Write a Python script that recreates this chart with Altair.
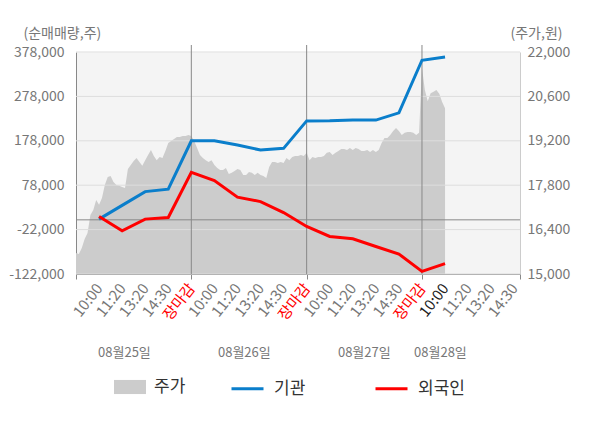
import json
import altair as alt
import pandas as pd

# ---------------- data ----------------
# intraday price (원), 40 samples per trading day, last day partial (open .. 10:00)
day1_price = [15660, 15630, 15820, 16100, 16290, 16860, 17020, 17330, 17180, 17400,
              17810, 18060, 18090, 17900, 17810, 17780, 17740, 17710, 18310, 18440,
              18560, 18660, 18530, 18410, 18590, 18750, 18910, 18720, 18590, 18690,
              18660, 18880, 19130, 19190, 19260, 19320, 19320, 19350, 19350, 19380]
day2_price = [19350, 19190, 18970, 18750, 18660, 18590, 18530, 18590, 18440, 18340,
              18280, 18280, 18340, 18150, 18190, 18250, 18310, 18280, 18120, 18120,
              18220, 18190, 18120, 18190, 18120, 18090, 18030, 18370, 18530, 18530,
              18500, 18530, 18500, 18660, 18590, 18690, 18720, 18720, 18750, 18720]
day3_price = [18820, 18590, 18690, 18660, 18690, 18690, 18720, 18820, 18850, 18750,
              18820, 18880, 18940, 18940, 18910, 18970, 18910, 18970, 18940, 18880,
              18880, 18910, 18850, 18910, 18850, 18910, 19130, 19290, 19290, 19380,
              19510, 19600, 19510, 19380, 19450, 19480, 19480, 19450, 19380, 19450]
day4_price = [21500, 20800, 20450, 20700, 20750, 20800, 20680, 20420, 20230]
day_prices = [day1_price, day2_price, day3_price, day4_price]
SAMPLES_PER_DAY = 40

# cumulative net buying (주) at each time label
flow_t = list(range(1, 17))
inst_vals = [1600, 32600, 63600, 69000, 178100, 178100, 168500, 157200, 161000,
             222800, 223000, 224600, 224600, 241000, 359400, 366800]
foreign_vals = [7400, -24700, 1600, 5200, 107100, 88300, 51000, 41100, 16400,
                -15000, -37500, -42700, -60000, -77000, -116100, -98800]

time_labels = ["10:00", "11:20", "13:20", "14:30", "장마감"]
dates = ["08월25일", "08월26일", "08월27일", "08월28일"]
date_pos = [2.1, 7.3, 12.5, 15.8]
day_bounds = [5, 10, 15]

left_ticks = [-122000, -22000, 78000, 178000, 278000, 378000]
right_ticks = [15000, 16400, 17800, 19200, 20600, 22000]
x_end = 19.25

# ---------------- tables ----------------
price_rows = []
for d, vals in enumerate(day_prices):
    for k, v in enumerate(vals):
        price_rows.append({"t": d * 5 + k * 5 / SAMPLES_PER_DAY, "price": v, "series": "주가"})
price_df = pd.DataFrame(price_rows)

flow_df = pd.DataFrame(
    [{"t": t, "v": v, "series": "기관"} for t, v in zip(flow_t, inst_vals)]
    + [{"t": t, "v": v, "series": "외국인"} for t, v in zip(flow_t, foreign_vals)]
)
grid_df = pd.DataFrame({"v": left_ticks})
zero_df = pd.DataFrame({"v": [0]})
sep_df = pd.DataFrame({"t": day_bounds})
date_df = pd.DataFrame({"t": date_pos, "label": dates})

tick_labels = [""] + time_labels * 3 + time_labels[:4]
x_vals = list(range(len(tick_labels))) + [x_end]

W, H = 444, 222
GREY = "#777777"
BLUE = "#0a7ecb"
RED = "#ff0000"

xscale = alt.Scale(domain=[0, x_end], nice=False, zero=False)
xaxis = alt.Axis(
    values=x_vals,
    labelExpr="datum.value < 19.1 ? " + json.dumps(tick_labels, ensure_ascii=False) + "[datum.value] : ''",
    labelAngle=-52,
    labelFontSize=15,
    labelColor={"condition": [{"test": "datum.value === 16", "value": "#222222"},
                              {"test": "datum.value % 5 === 0", "value": RED}],
                "value": GREY},
    labelOverlap=False,
    labelFlush=False,
    labelPadding=6,
    tickColor="#888888",
    tickSize=5,
    tickOpacity={"condition": {"test": "datum.value % 5 === 0 || datum.value > 19", "value": 1},
                 "value": 0},
    domainColor="#888888",
    grid=False,
    title=None,
)
X = alt.X("t:Q", scale=xscale, axis=xaxis)

yscale_left = alt.Scale(domain=[-122000, 378000], nice=False, zero=False)
yaxis_left = alt.Axis(
    values=left_ticks, format=",.0f",
    labelExpr="replace(datum.label, '−', '-')",
    labelColor=GREY, labelFontSize=14, labelPadding=12,
    ticks=False, domainColor="#888888", grid=False,
    title="(순매매량,주)", titleAngle=0, titleAlign="left", titleBaseline="middle",
    titleX=-53, titleY=-19, titleFontSize=14, titleFontWeight="normal", titleColor=GREY,
)
yscale_right = alt.Scale(domain=[15000, 22000], nice=False, zero=False)
yaxis_right = alt.Axis(
    orient="right", values=right_ticks, format=",.0f",
    labelColor=GREY, labelFontSize=14, labelPadding=7,
    ticks=False, domainColor="#cccccc", grid=False,
    title="(주가,원)", titleAngle=0, titleAlign="left", titleBaseline="middle",
    titleX=-10, titleY=-19, titleFontSize=14, titleFontWeight="normal", titleColor=GREY,
)

area = alt.Chart(price_df).mark_area(opacity=1).encode(
    x=X,
    y=alt.Y("price:Q", scale=yscale_right, axis=yaxis_right),
    y2=alt.datum(15000),
    color=alt.Color("series:N", scale=alt.Scale(domain=["주가"], range=["#cccccc"]),
                    legend=alt.Legend(orient="none", legendX=38, legendY=319, title=None,
                                      symbolType="M-1,-0.44H1V0.44H-1Z", symbolSize=1024,
                                      symbolStrokeWidth=0, labelFontSize=17, labelColor="#333333",
                                      labelOffset=8, padding=0)),
)

Yl = alt.Y("v:Q", scale=yscale_left, axis=yaxis_left)

hgrid = alt.Chart(grid_df).mark_rule(color="#dddddd", strokeWidth=1).encode(y=Yl)
zero = alt.Chart(zero_df).mark_rule(color="#888888", strokeWidth=1).encode(y=Yl)
seps = alt.Chart(sep_df).mark_rule(color="#888888", strokeWidth=1).encode(
    x=X, y=alt.value(-7), y2=alt.value(H))
lines = alt.Chart(flow_df).mark_line(strokeWidth=3).encode(
    x=X, y=Yl,
    color=alt.Color("series:N", scale=alt.Scale(domain=["기관", "외국인"], range=[BLUE, RED]),
                    legend=alt.Legend(orient="none", direction="horizontal", legendX=154, legendY=319,
                                      title=None, symbolType="stroke", symbolSize=1024,
                                      symbolStrokeWidth=3, labelFontSize=17, labelColor="#333333",
                                      labelOffset=9, columnPadding=63, padding=0)),
)
date_text = alt.Chart(date_df).mark_text(fontSize=13, color=GREY, align="center", baseline="middle").encode(
    x=X, y=alt.value(301), text="label:N")

inner = alt.layer(hgrid, seps, zero, lines, date_text)

chart = alt.layer(area, inner).resolve_scale(y="independent", color="independent").properties(
    width=W, height=H,
    autosize=alt.AutoSizeParams(type="none"),
    padding={"left": 68, "top": 44, "right": 72, "bottom": 140},
    background="white",
).configure(font="Noto Sans CJK KR").configure_view(fill="#f4f4f4", stroke="transparent")

chart.save("out.html", embed_options={"renderer": "svg", "actions": False})
